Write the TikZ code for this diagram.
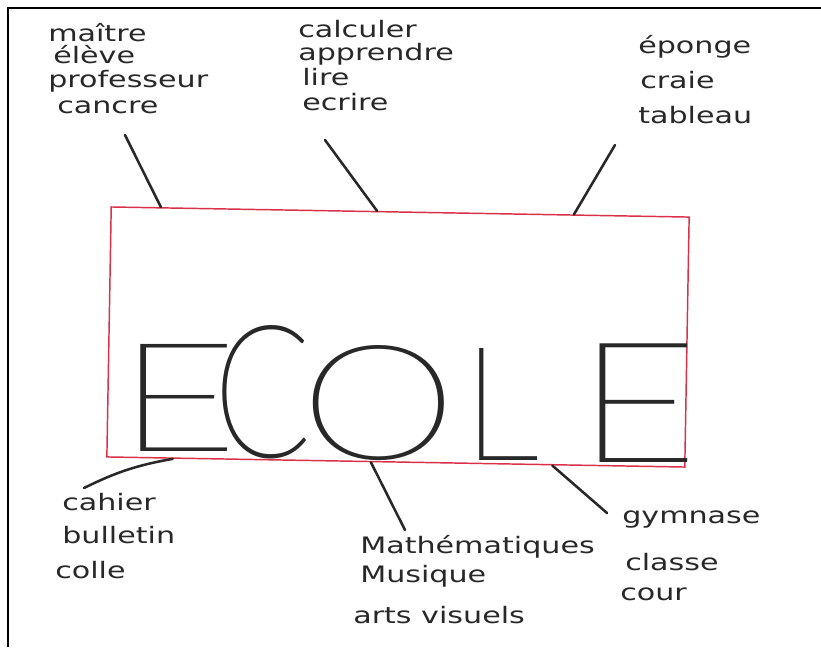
\documentclass[tikz,border=0pt]{standalone}
\usepackage{fontspec}
\usepackage{graphicx}
\usetikzlibrary{calc}
\setmainfont{DejaVu Sans}[FakeStretch=1.33]
\IfFontExistsTF{Lato-Thin.ttf}{\newfontfamily\ecolefont{Lato-Thin.ttf}}{%
 \IfFontExistsTF{Poppins-Thin.ttf}{\newfontfamily\ecolefont{Poppins-Thin.ttf}}{%
  \IfFontExistsTF{FiraSans-Hair.otf}{\newfontfamily\ecolefont{FiraSans-Hair.otf}}{%
   \IfFontExistsTF{FiraSans-UltraLight.otf}{\newfontfamily\ecolefont{FiraSans-UltraLight.otf}}{%
    \IfFontExistsTF{DejaVuSans-ExtraLight.ttf}{\newfontfamily\ecolefont{DejaVuSans-ExtraLight.ttf}}{%
     \newcommand\ecolefont{\sffamily}}}}}}
\definecolor{boxred}{RGB}{218,48,72}
\definecolor{ink}{RGB}{40,40,40}
% #1 width, #2 height, #3 left trim, #4 right trim, #5 letter (all in pt)
\newcommand\bigletter[5]{\hspace*{-#3pt}\resizebox{#1pt}{#2pt}{\ecolefont\fontsize{128}{128}\selectfont #5}\hspace*{-#4pt}}
\begin{document}
\begin{tikzpicture}[x=0.75pt,y=-0.75pt,
  lbl/.style={anchor=base west, inner sep=0pt, text=ink, font=\fontsize{17}{20}\selectfont},
  letter/.style={anchor=base west, inner sep=0pt, text=ink},
  conn/.style={draw=ink, line width=1.9pt, line cap=round},
  frame/.style={draw=black, line width=1.2pt}]
\useasboundingbox (0,0) rectangle (821,647);
\fill[white] (0,0) rectangle (821,647);
\draw[frame] (8,647) -- (8,8) -- (821,8);
\node[draw=boxred, line width=1.1pt, minimum width=433.5pt, minimum height=187.5pt, rotate=-1, inner sep=0pt] (box) at (398,337) {};
% big letters
\node[letter] (E1) at (140,451) {\bigletter{91}{80.3}{17}{10}{E}};
\node[letter] (C) at (223,457) {\bigletter{74}{99}{7}{7}{C}};
\node[letter] (O) at (313,459) {\bigletter{117.5}{85.5}{9.9}{9.9}{O}};
\node[letter] (L) at (478,460) {\bigletter{58}{84}{11.9}{3.4}{L}};
\node[letter] (E2) at (600,462) {\bigletter{92}{89}{17.5}{9.5}{E}};
% top-left
\node[lbl] (tl1) at (48,41) {maître};
\node[lbl] (tl2) at (53,63) {élève};
\node[lbl] (tl3) at (48,87) {professeur};
\node[lbl] (tl4) at (57,113) {cancre};
% top-middle
\node[lbl] (tm1) at (298,37) {calculer};
\node[lbl] (tm2) at (298,60) {apprendre};
\node[lbl] (tm3) at (302,85) {lire};
\node[lbl] (tm4) at (302,110) {ecrire};
% top-right
\node[lbl] (tr1) at (638,53) {éponge};
\node[lbl] (tr2) at (640,88) {craie};
\node[lbl] (tr3) at (638,123) {tableau};
% bottom-left
\node[lbl] (bl1) at (62,510) {cahier};
\node[lbl] (bl2) at (62,543) {bulletin};
\node[lbl] (bl3) at (55,578) {colle};
% bottom-middle
\node[lbl] (bm1) at (360,553) {Mathématiques};
\node[lbl] (bm2) at (360,582) {Musique};
\node[lbl] (bm3) at (353,623) {arts visuels};
% bottom-right
\node[lbl] (br1) at (622,523) {gymnase};
\node[lbl] (br2) at (625,570) {classe};
\node[lbl] (br3) at (620,600) {cour};
% connector ends
\coordinate (c1) at (125,135);
\coordinate (c2) at (325,140);
\coordinate (c3) at (615,145);
\coordinate (c4) at (84,488);
\coordinate (c5) at (405,530);
\coordinate (c6) at (607,513);
\draw[conn] (c1) -- ($(box.north west)!0.087!(box.north east)$);
\draw[conn] (c2) -- ($(box.north west)!0.46!(box.north east)$);
\draw[conn] (c3) -- ($(box.north west)!0.80!(box.north east)$);
\draw[conn] ($(box.south west)!0.115!(box.south east)$) to[bend right=8] (c4);
\draw[conn] ($(box.south west)!0.457!(box.south east)$) -- (c5);
\draw[conn] ($(box.south west)!0.77!(box.south east)$) -- (c6);
\end{tikzpicture}
\end{document}
